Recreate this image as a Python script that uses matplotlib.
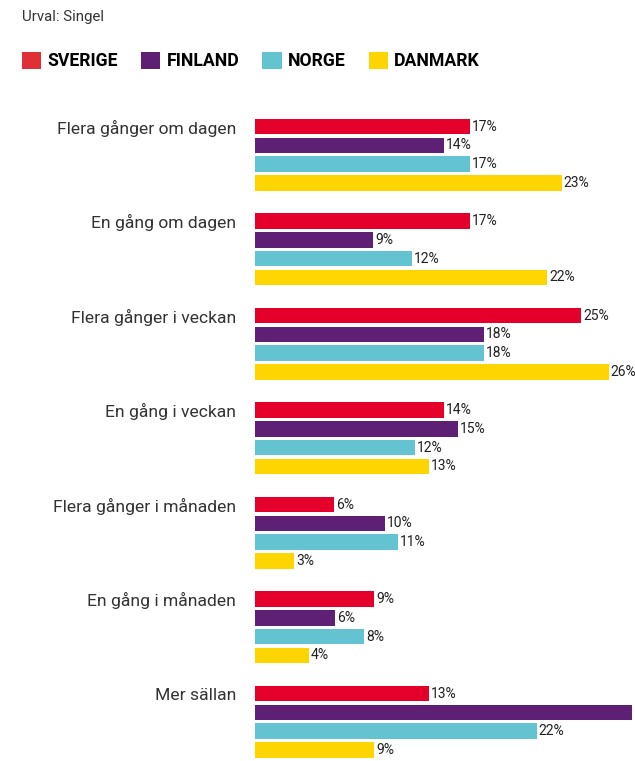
"""Grouped horizontal bars: frequency by country (Urval: Singel)."""
import matplotlib

matplotlib.use("Agg")
import matplotlib.pyplot as plt
from matplotlib.patches import Patch

plt.rcParams["font.family"] = ["Roboto", "DejaVu Sans"]

CATEGORIES = [
    "Flera gånger om dagen",
    "En gång om dagen",
    "Flera gånger i veckan",
    "En gång i veckan",
    "Flera gånger i månaden",
    "En gång i månaden",
    "Mer sällan",
]
SERIES = ["SVERIGE", "FINLAND", "NORGE", "DANMARK"]
COLORS = ["#e4002b", "#5e2075", "#63c3d1", "#ffd500"]
LEGEND_COLORS = ["#e03035", "#5e2075", "#63c3d1", "#ffd500"]

# bar lengths (percent)
sverige = [16.4, 16.4, 24.9, 14.4, 6.0, 9.1, 13.3]
finland = [14.4, 9.0, 17.5, 15.5, 9.9, 6.1, 28.8]
norge = [16.4, 12.0, 17.5, 12.2, 10.9, 8.3, 21.5]
danmark = [23.4, 22.3, 27.0, 13.3, 3.0, 4.1, 9.1]

# printed labels
sverige_lbl = [17, 17, 25, 14, 6, 9, 13]
finland_lbl = [14, 9, 18, 15, 10, 6, 29]
norge_lbl = [17, 12, 18, 12, 11, 8, 22]
danmark_lbl = [23, 22, 26, 13, 3, 4, 9]

values = [sverige, finland, norge, danmark]
labels = [sverige_lbl, finland_lbl, norge_lbl, danmark_lbl]

W, H = 635, 761
fig = plt.figure(figsize=(W / 100, H / 100), dpi=100)
x0 = 255
px_per_unit = 13.1
ax = fig.add_axes([x0 / W, 0, (W - x0) / W, 1])
xmax = (W - x0) / px_per_unit
ax.set_xlim(0, xmax)
grp_px = 94.5
top_px = 126.7
ax.set_ylim((H - top_px) / grp_px, -top_px / grp_px)

pitch = 18.7 / grp_px
bar_h = 15.5 / grp_px

for j, (vals, lbls, col) in enumerate(zip(values, labels, COLORS)):
    ys = [i + j * pitch for i in range(len(CATEGORIES))]
    ax.barh(ys, vals, height=bar_h, color=col, edgecolor="none")
    for y, v, l in zip(ys, vals, lbls):
        if v > xmax - 0.5:
            # label falls off the right edge, as in the original
            continue
        ax.annotate(f"{l}%", (v, y), xytext=(1.5, 0), textcoords="offset points",
                    va="center", ha="left", fontsize=10, color="#222222",
                    annotation_clip=False)

ax.set_yticks(range(len(CATEGORIES)))
ax.set_yticklabels(CATEGORIES, fontsize=12.6, color="#333333")
ax.tick_params(axis="y", length=0, pad=13.5)
ax.set_xticks([])
for s in ax.spines.values():
    s.set_visible(False)

fig.text(22 / W, 1 - 17 / H, "Urval: Singel", fontsize=10.8, color="#333333",
         va="center", ha="left")

handles = [Patch(facecolor=c, edgecolor="none") for c in LEGEND_COLORS]
fig.legend(handles, SERIES, loc="center left", ncol=4,
           bbox_to_anchor=(22 / W - 0.0, 1 - 61 / H), frameon=False,
           prop={"weight": "bold", "size": 12.7},
           handlelength=1.1, handleheight=1.1, handletextpad=0.35,
           columnspacing=1.3, borderpad=0, borderaxespad=0)

fig.savefig("out.png", dpi=100)
